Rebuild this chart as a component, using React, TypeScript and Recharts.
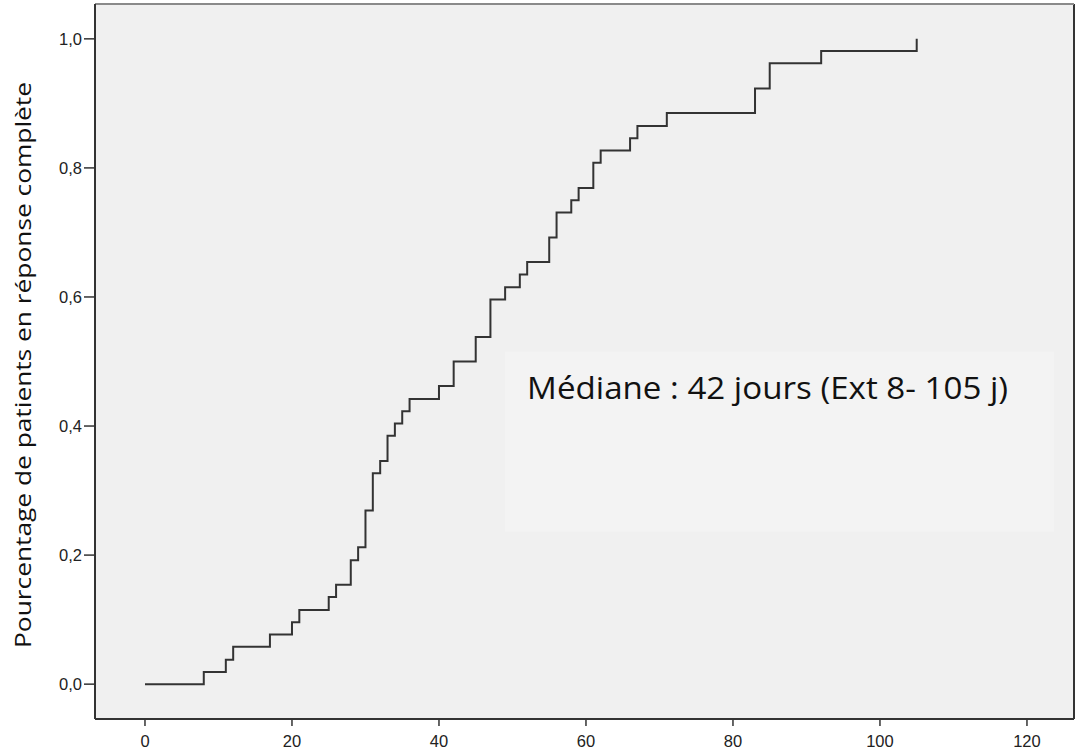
import React from "react";
import {
  LineChart,
  Line,
  XAxis,
  YAxis,
  ReferenceArea,
  ReferenceLine,
} from "recharts";

// jours jusqu'à la réponse complète, et proportion cumulée
const days = [0, 8, 11, 12, 17, 20, 21, 25, 26, 28, 29, 30, 31, 32, 33, 34, 35, 36, 40, 42, 45, 47, 49, 51, 52, 55, 56, 58, 59, 61, 62, 66, 67, 71, 83, 85, 92, 105];
const responders = [0, 0.019, 0.038, 0.058, 0.077, 0.096, 0.115, 0.135, 0.154, 0.192, 0.212, 0.269, 0.327, 0.346, 0.385, 0.404, 0.423, 0.442, 0.462, 0.5, 0.538, 0.596, 0.615, 0.635, 0.654, 0.692, 0.731, 0.75, 0.769, 0.808, 0.827, 0.846, 0.865, 0.885, 0.923, 0.962, 0.981, 1.0];

const xTicks = [0, 20, 40, 60, 80, 100, 120];
const yTicks = [0, 0.2, 0.4, 0.6, 0.8, 1.0];

const X_DOMAIN: [number, number] = [-6.8, 126.4];
const Y_DOMAIN: [number, number] = [-0.054, 1.054];

const data = days.map((d, i) => ({ day: d, p: responders[i] }));

const tickStyle = { fontFamily: "Liberation Sans, Arial, sans-serif", fontSize: 16.5, fill: "#222" };

const annotation = "Médiane : 42 jours (Ext 8- 105 j)";
const yTitle = "Pourcentage de patients en réponse complète";

function AnnotationLabel(props: any) {
  const vb = props.viewBox || {};
  return (
    <text
      x={vb.x + 22}
      y={vb.y + 47}
      fontFamily="Open Sans, sans-serif"
      fontSize={31}
      fill="#111"
      textLength={481}
      lengthAdjust="spacingAndGlyphs"
    >
      {annotation}
    </text>
  );
}

function YTitle() {
  return (
    <text
      x={22}
      y={365}
      transform="rotate(-90 22 365)"
      textAnchor="middle"
      dominantBaseline="central"
      fontFamily="Open Sans, sans-serif"
      fontSize={21.5}
      fill="#111"
      textLength={566}
      lengthAdjust="spacingAndGlyphs"
    >
      {yTitle}
    </text>
  );
}

export default function App() {
  return (
    <div style={{ position: "absolute", left: 0, top: 0, background: "#fff" }}>
      <LineChart
        width={1076}
        height={755}
        data={data}
        margin={{ top: 4, right: 2, bottom: 0, left: 45 }}
      >
        <XAxis
          dataKey="day"
          type="number"
          domain={X_DOMAIN}
          ticks={xTicks}
          allowDataOverflow
          height={36}
          tickSize={7}
          tickMargin={9}
          tick={tickStyle}
          axisLine={{ stroke: "#333", strokeWidth: 2 }}
          tickLine={{ stroke: "#333", strokeWidth: 1.5 }}
        />
        <YAxis
          type="number"
          domain={Y_DOMAIN}
          ticks={yTicks}
          allowDataOverflow
          width={50}
          tickSize={11}
          tickMargin={2}
          tick={tickStyle}
          tickFormatter={(v: number) => v.toFixed(1).replace(".", ",")}
          axisLine={{ stroke: "#333", strokeWidth: 2 }}
          tickLine={{ stroke: "#333", strokeWidth: 1.5 }}
          label={<YTitle />}
        />
        <ReferenceArea
          x1={X_DOMAIN[0]}
          x2={X_DOMAIN[1]}
          y1={Y_DOMAIN[0]}
          y2={Y_DOMAIN[1]}
          fill="#f0f0f0"
          fillOpacity={1}
          stroke="none"
          ifOverflow="visible"
        />
        <ReferenceLine x={X_DOMAIN[1]} stroke="#333" strokeWidth={2} ifOverflow="visible" />
        <ReferenceLine y={Y_DOMAIN[1]} stroke="#8a8a8a" strokeWidth={2} ifOverflow="visible" />
        <ReferenceArea
          x1={49}
          x2={123.7}
          y1={0.236}
          y2={0.515}
          fill="#f3f3f3"
          fillOpacity={1}
          stroke="none"
          label={<AnnotationLabel />}
        />
        <Line
          type="stepAfter"
          dataKey="p"
          stroke="#333"
          strokeWidth={2}
          dot={false}
          activeDot={false}
          isAnimationActive={false}
        />
      </LineChart>
    </div>
  );
}
